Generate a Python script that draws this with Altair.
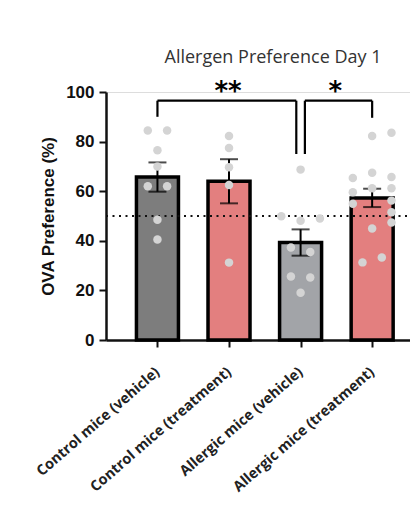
import altair as alt
import pandas as pd

groups = ["Control mice (vehicle)", "Control mice (treatment)",
          "Allergic mice (vehicle)", "Allergic mice (treatment)"]
means = [65.7, 64.0, 39.3, 57.3]
sems = [5.9, 8.9, 5.3, 3.7]
bar_colors = ["#7d7d7d", "#e37f7f", "#a2a4a8", "#e37f7f"]

# individual animals: group index, value, column slot (jitter column)
pt_group = [0]*8 + [1]*5 + [2]*9 + [3]*15
pt_value = [84.5, 84.5, 76.5, 70.0, 62.0, 62.0, 48.5, 40.5,
            82.3, 77.4, 69.7, 62.5, 31.2,
            68.7, 49.9, 48.1, 49.0, 37.3, 35.5, 25.6, 25.2, 19.1,
            82.3, 83.6, 65.3, 67.4, 65.7, 59.6, 61.2, 61.2, 54.9, 56.2,
            51.5, 47.4, 45.0, 31.3, 33.3]
pt_col = [-1, 1, 0, 0, -1, 1, 0, 0,
          0, 0, 0, 0, 0,
          0, -2, 0, 2, -1, 1, -1, 1, 0,
          0, 2, -2, 0, 2, -2, 0, 2, -2, 2,
          2, 2, 0, -1, 1]

chance_level = 50

br_from = [0, 2]
br_to = [2, 3]
br_top = [96.5, 96.5]
br_left_end = [90.0, 75.0]
br_right_end = [75.0, 89.6]
br_label = ["**", "*"]

COL_STEP = 0.135
GAP = 0.06

bars = pd.DataFrame({"g": list(range(4)), "name": groups, "mean": means,
                     "sem": sems, "color": bar_colors})
bars["lo"] = bars["mean"] - bars["sem"]
bars["hi"] = bars["mean"] + bars["sem"]

pts = pd.DataFrame({"g": pt_group, "v": pt_value, "c": pt_col})
pts["x"] = pts["g"] + pts["c"] * COL_STEP

br = pd.DataFrame({"a": br_from, "b": br_to, "top": br_top,
                   "le": br_left_end, "re": br_right_end, "lab": br_label})
br["xa"] = [a + (GAP if a == 2 else 0) for a in br["a"]]
br["xb"] = [b - (GAP if b == 2 else 0) for b in br["b"]]
br["mid"] = (br["a"] + br["b"]) / 2

label_expr = "[" + ",".join("'" + g + "'" for g in groups) + "][datum.value]"

xscale = alt.Scale(domain=[-0.649, 3.459], nice=False, zero=False)
yscale = alt.Scale(domain=[0, 100], nice=False)

xaxis = alt.Axis(values=[0, 1, 2, 3], labelExpr=label_expr, title=None,
                 labelAngle=-41, labelAlign="right", labelBaseline="middle",
                 labelOverlap=False, labelBound=False, labelFlush=False, labelLimit=400,
                 labelFont="Open Sans", labelFontWeight="bold", labelFontSize=14.5,
                 labelColor="#222", labelPadding=23, tickSize=7, tickWidth=2,
                 tickColor="#111", domainColor="#111", domainWidth=2.5, grid=False)
yaxis = alt.Axis(values=[0, 20, 40, 60, 80, 100], title="OVA Preference (%)",
                 titleFont="Liberation Sans", titleFontSize=17, titleFontWeight="bold",
                 titleColor="#111", titlePadding=8,
                 labelFont="Liberation Sans", labelFontSize=17, labelFontWeight="bold",
                 labelColor="#111", labelPadding=5, tickSize=7, tickWidth=2,
                 tickColor="#111", domainColor="#111", domainWidth=2.5, grid=False)

base_bars = alt.Chart(bars)

bar_layer = base_bars.mark_bar(size=42, stroke="#000", strokeWidth=3.5).encode(
    x=alt.X("g:Q", scale=xscale, axis=xaxis),
    y=alt.Y("mean:Q", scale=yscale, axis=yaxis),
    color=alt.Color("color:N", scale=None),
)

err_rule = base_bars.mark_rule(color="#000", strokeWidth=2).encode(
    x="g:Q", y="lo:Q", y2="hi:Q")
cap_hi = base_bars.mark_tick(orient="horizontal", size=18, thickness=2, color="#000").encode(
    x="g:Q", y="hi:Q")
cap_lo = base_bars.mark_tick(orient="horizontal", size=18, thickness=2, color="#000").encode(
    x="g:Q", y="lo:Q")

chance = alt.Chart(pd.DataFrame({"y": [chance_level]})).mark_rule(
    color="#111", strokeWidth=2.2, strokeDash=[2, 4.5]).encode(
    y="y:Q", x=alt.value(0), x2=alt.value(304))

points = alt.Chart(pts).mark_circle(size=72, color="#d4d4d4", opacity=1).encode(
    x="x:Q", y="v:Q")

bbase = alt.Chart(br)
br_h = bbase.mark_rule(color="#000", strokeWidth=2.2).encode(x="xa:Q", x2="xb:Q", y="top:Q")
br_l = bbase.mark_rule(color="#000", strokeWidth=2.2).encode(x="xa:Q", y="top:Q", y2="le:Q")
br_r = bbase.mark_rule(color="#000", strokeWidth=2.2).encode(x="xb:Q", y="top:Q", y2="re:Q")
stars = bbase.mark_text(font="DejaVu Sans", fontSize=26, fontWeight="bold",
                        color="#000", baseline="alphabetic", dy=-1, dx=-1).encode(
    x="mid:Q", y="top:Q", text="lab:N")

chart = alt.layer(bar_layer, chance, err_rule, cap_hi, cap_lo, points,
                  br_h, br_l, br_r, stars).properties(
    width=304, height=248,
    title=alt.TitleParams("Allergen Preference Day 1", font="Open Sans", fontSize=18,
                          fontWeight="normal", color="#333", anchor="middle",
                          offset=12, dx=15),
    autosize=alt.AutoSizeParams(type="none"),
    padding={"left": 98, "top": 84, "right": 0, "bottom": 155},
).configure_view(stroke=None).configure(background="white")

chart.save("out.html", embed_options={"renderer": "svg", "actions": False})
